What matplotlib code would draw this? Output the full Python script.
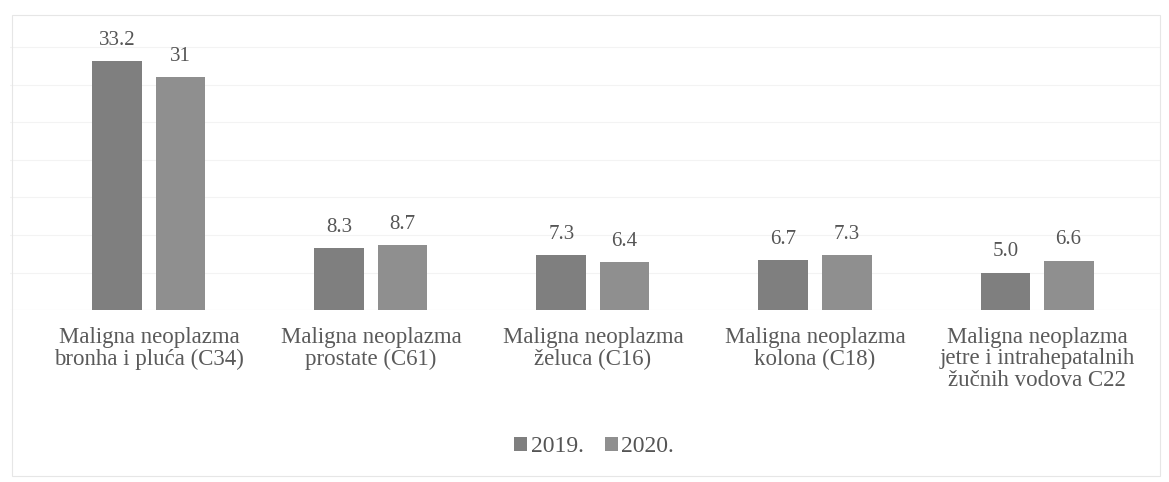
import matplotlib
matplotlib.use("Agg")
import matplotlib.pyplot as plt
import numpy as np
from matplotlib.patches import Rectangle

plt.rcParams["font.family"] = ["Liberation Serif", "DejaVu Serif"]

categories = [
    "Maligna neoplazma\nbronha i pluća (C34)",
    "Maligna neoplazma\nprostate (C61)",
    "Maligna neoplazma\nželuca (C16)",
    "Maligna neoplazma\nkolona (C18)",
    "Maligna neoplazma\njetre i intrahepatalnih\nžučnih vodova C22",
]
vals_2019 = [33.2, 8.3, 7.3, 6.7, 5.0]
vals_2020 = [31, 8.7, 6.4, 7.3, 6.6]
labels_2019 = ["33.2", "8.3", "7.3", "6.7", "5.0"]
labels_2020 = ["31", "8.7", "6.4", "7.3", "6.6"]
series = ["2019.", "2020."]

W, H = 1169, 482
fig = plt.figure(figsize=(W / 100, H / 100), dpi=100)

# baseline ~310px from top, 7.5 px per unit
ax = fig.add_axes([10 / W, (H - 310) / H, 1150 / W, 300 / H])
x = np.arange(len(categories))
w = 0.225
off = 0.142
b1 = ax.bar(x - off, vals_2019, w, color="#7f7f7f", zorder=2, label=series[0])
b2 = ax.bar(x + off, vals_2020, w, color="#8f8f8f", zorder=2, label=series[1])

for bars, labs in ((b1, labels_2019), (b2, labels_2020)):
    for r, t in zip(bars, labs):
        ax.annotate(t, (r.get_x() + r.get_width() / 2, r.get_height()),
                    xytext=(0, 8), textcoords="offset points",
                    ha="center", va="bottom", fontsize=15, color="#555555")

ax.set_xlim(-0.626, 4.554)
ax.set_ylim(0, 40)
ax.set_xticks(x)
ax.set_xticklabels(categories, fontsize=16.5, color="#5a5a5a", linespacing=1.05)
ax.tick_params(axis="x", length=0, pad=12)
ax.set_yticks(np.arange(5, 40, 5))
ax.tick_params(axis="y", length=0, labelleft=False)
ax.yaxis.grid(True, color="#f3f3f3", linewidth=0.8, zorder=0)
ax.axhline(0, color="#e0e0e0", linewidth=0.8, zorder=1)
for s in ax.spines.values():
    s.set_visible(False)
ax.patch.set_alpha(0)

fig.legend(loc="center", bbox_to_anchor=(594 / W, 1 - 447 / H), ncol=2,
           frameon=False, fontsize=17, handlelength=0.55, handleheight=0.55,
           handletextpad=0.15, columnspacing=0.9, labelcolor="#555555")

fig.patches.append(Rectangle((12 / W, 6 / H), 1148 / W, 461 / H,
                             transform=fig.transFigure, fill=False,
                             edgecolor="#e6e6e6", linewidth=0.8))

fig.savefig("out.png", dpi=100)
